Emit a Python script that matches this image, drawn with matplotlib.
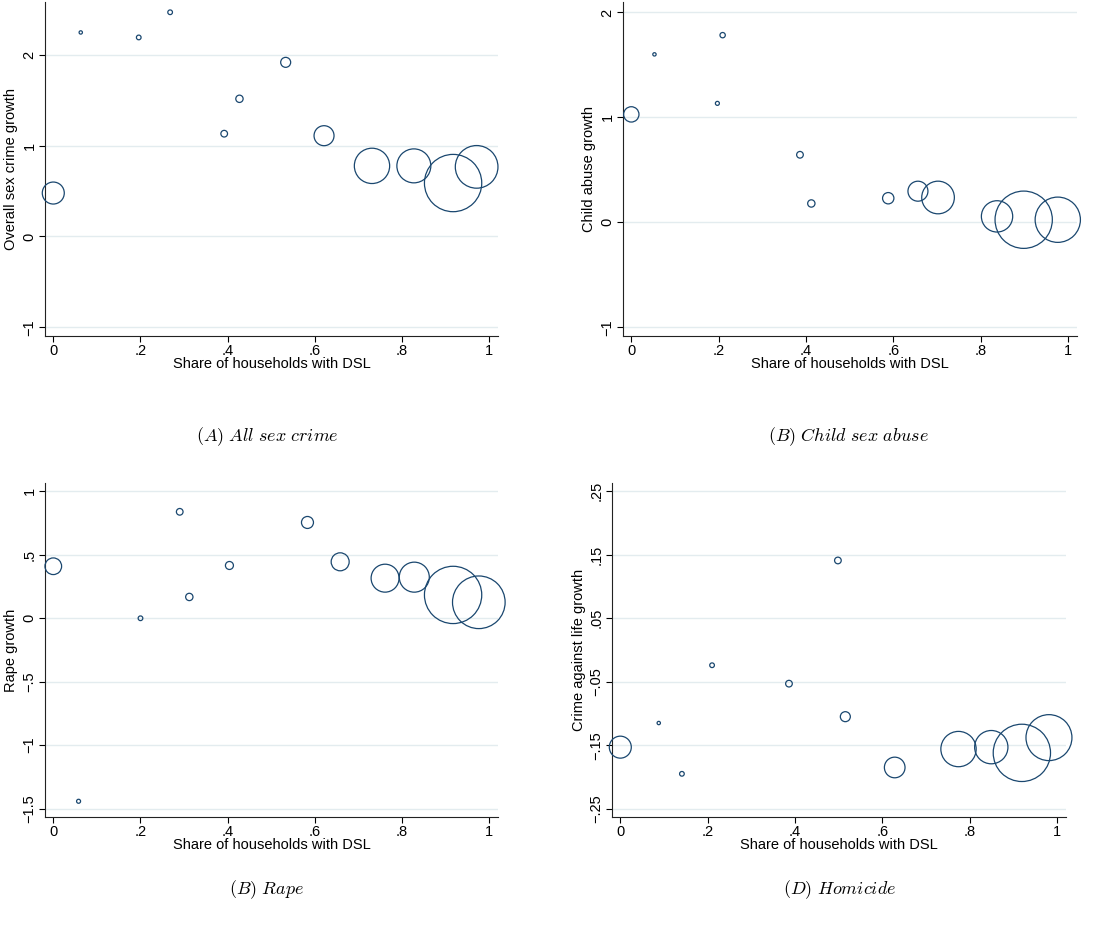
import matplotlib
matplotlib.use("Agg")
import matplotlib.pyplot as plt

# Panel A: all sex crime
a_share = [0.0, 0.063, 0.196, 0.268, 0.392, 0.427, 0.533, 0.621, 0.731, 0.827, 0.917, 0.971]
a_growth = [0.478, 2.245, 2.19, 2.467, 1.131, 1.515, 1.916, 1.109, 0.777, 0.777, 0.588, 0.766]
a_weight = [10.9, 0.25, 0.49, 0.49, 1.0, 1.21, 2.25, 9.0, 28.1, 26.0, 74.0, 41.0]

# Panel B: child sex abuse
b_share = [0.0, 0.053, 0.197, 0.209, 0.386, 0.412, 0.588, 0.656, 0.702, 0.837, 0.898, 0.976]
b_growth = [1.029, 1.601, 1.134, 1.784, 0.644, 0.18, 0.23, 0.297, 0.237, 0.057, 0.025, 0.025]
b_weight = [5.3, 0.25, 0.36, 0.64, 1.0, 1.21, 2.9, 9.0, 24.0, 22.1, 74.0, 46.2]

# Panel C: rape
c_share = [0.0, 0.058, 0.2, 0.29, 0.312, 0.404, 0.583, 0.658, 0.761, 0.828, 0.917, 0.976]
c_growth = [0.41, -1.442, 0.0, 0.839, 0.168, 0.416, 0.755, 0.445, 0.316, 0.324, 0.184, 0.126]
c_weight = [6.25, 0.36, 0.49, 1.0, 1.21, 1.44, 3.24, 7.3, 17.6, 20.3, 74.0, 62.4]

# Panel D: homicide
d_share = [0.0, 0.088, 0.141, 0.21, 0.386, 0.498, 0.515, 0.628, 0.774, 0.849, 0.919, 0.981]
d_growth = [-0.153, -0.115, -0.195, -0.024, -0.053, 0.141, -0.105, -0.185, -0.156, -0.153, -0.162, -0.138]
d_weight = [10.9, 0.25, 0.49, 0.49, 1.0, 1.0, 2.25, 9.6, 28.1, 25.0, 74.0, 47.6]

x_ticks = [0, 0.2, 0.4, 0.6, 0.8, 1.0]
x_ticklabels = ["0", ".2", ".4", ".6", ".8", "1"]

a_yticks = [-1, 0, 1, 2]
a_yticklabels = ["\u22121", "0", "1", "2"]
b_yticks = [-1, 0, 1, 2]
b_yticklabels = ["\u22121", "0", "1", "2"]
c_yticks = [-1.5, -1, -0.5, 0, 0.5, 1]
c_yticklabels = ["\u22121.5", "\u22121", "\u2212.5", "0", ".5", "1"]
d_yticks = [-0.25, -0.15, -0.05, 0.05, 0.15, 0.25]
d_yticklabels = ["\u2212.25", "\u2212.15", "\u2212.05", ".05", ".15", ".25"]

NAVY = "#1a476f"
GRID = "#e3ecef"
W, H = 1119, 935

plt.rcParams["font.family"] = ["Liberation Sans", "DejaVu Sans"]
plt.rcParams["mathtext.fontset"] = "cm"

fig = plt.figure(figsize=(W / 100, H / 100), dpi=100)


def px_axes(left, right, top, bottom):
    return fig.add_axes([left / W, (H - bottom) / H, (right - left) / W, (bottom - top) / H])


def draw_panel(ax, share, growth, weight, yticks, yticklabels, ylim, ylabel):
    sizes = [23.0 * w for w in weight]
    ax.scatter(share, growth, s=sizes, facecolors="none", edgecolors=NAVY,
               linewidths=0.9, zorder=3, clip_on=False)
    ax.set_xlim(-0.019, 1.02)
    ax.set_ylim(*ylim)
    ax.set_xticks(x_ticks)
    ax.set_xticklabels(x_ticklabels)
    ax.set_yticks(yticks)
    ax.set_yticklabels(yticklabels, rotation=90, va="center")
    for t in yticks:
        ax.axhline(t, color=GRID, linewidth=1.0, zorder=1)
    for side in ("top", "right"):
        ax.spines[side].set_visible(False)
    for side in ("left", "bottom"):
        ax.spines[side].set_linewidth(0.8)
        ax.spines[side].set_color("#222222")
    ax.tick_params(direction="out", length=4, width=0.8, labelsize=10.5, pad=2)
    ax.set_xlabel("Share of households with DSL", fontsize=10.5, labelpad=-1)
    ax.set_ylabel(ylabel, fontsize=10.5, labelpad=3)


ax_a = px_axes(45, 498, 2, 336)
draw_panel(ax_a, a_share, a_growth, a_weight, a_yticks, a_yticklabels,
           (-1.095, 2.58), "Overall sex crime growth")

ax_b = px_axes(623, 1077, 2, 336)
draw_panel(ax_b, b_share, b_growth, b_weight, b_yticks, b_yticklabels,
           (-1.083, 2.1), "Child abuse growth")

ax_c = px_axes(45, 498, 483, 817)
draw_panel(ax_c, c_share, c_growth, c_weight, c_yticks, c_yticklabels,
           (-1.566, 1.066), "Rape growth")

ax_d = px_axes(612, 1066, 483, 817)
draw_panel(ax_d, d_share, d_growth, d_weight, d_yticks, d_yticklabels,
           (-0.263, 0.263), "Crime against life growth")

captions = [
    (267, 437, r"$\mathit{(A)\ All\ sex\ crime}$"),
    (848, 437, r"$\mathit{(B)\ Child\ sex\ abuse}$"),
    (267, 890, r"$\mathit{(B)\ Rape}$"),
    (840, 890, r"$\mathit{(D)\ Homicide}$"),
]
for x, y, text in captions:
    fig.text(x / W, (H - y) / H, text, fontsize=13, ha="center", va="center")

fig.savefig("out.png", dpi=100)
